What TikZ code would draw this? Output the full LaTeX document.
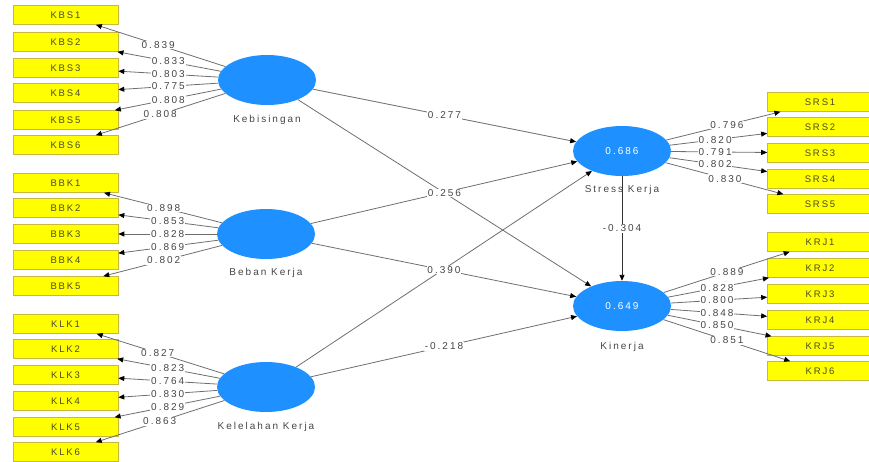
\documentclass[tikz,border=0pt]{standalone}
\usepackage{fontspec}
\setmainfont{Liberation Sans}
\newfontfamily\plsfont[LetterSpace=20]{Liberation Sans}
\usetikzlibrary{arrows.meta,calc,shapes.geometric}
\definecolor{lvblue}{RGB}{30,144,255}
\definecolor{indyellow}{RGB}{255,255,0}
\definecolor{indborder}{RGB}{200,185,60}
\definecolor{txtgray}{RGB}{70,70,70}
\definecolor{boxtxt}{RGB}{75,75,40}
\definecolor{edgegray}{RGB}{110,110,110}
\tikzset{
  ind/.style={rectangle, fill=indyellow, draw=indborder, line width=0.6pt,
    minimum width=105pt, minimum height=19pt, inner sep=0pt,
    font=\plsfont\fontsize{9.5}{10}\selectfont, text=boxtxt},
  lv/.style={ellipse, fill=lvblue, minimum width=98pt, minimum height=50pt,
    inner sep=0pt, text=white, font=\plsfont\fontsize{10}{11}\selectfont},
  lvname/.style={inner sep=0pt, text=txtgray, font=\plsfont\fontsize{10}{11}\selectfont},
  lbl/.style={fill=white, inner sep=0.8pt, text=txtgray, font=\plsfont\fontsize{10}{11}\selectfont},
  conn/.style={draw=edgegray, line width=0.8pt,
    -{Triangle[length=6pt,width=5pt,color=black]}},
  sconn/.style={draw=black!80, line width=0.9pt,
    -{Triangle[length=6pt,width=5pt,color=black]}}
}
\begin{document}
\begin{tikzpicture}[x=1pt,y=-1pt]
\useasboundingbox (0,0) rectangle (869,461);
% latent variables
\node[lv] (KB) at (267,80) {};
\node[lv] (BK) at (266,234) {};
\node[lv] (KL) at (266,387) {};
\node[lv] (SK) at (622,151) {0.686};
\node[lv] (KN) at (622,306) {0.649};
\node[lvname] (KBn) at (267,120) {Kebisingan};
\node[lvname] (BKn) at (266,273) {Beban Kerja};
\node[lvname] (KLn) at (266,427) {Kelelahan Kerja};
\node[lvname] (SKn) at (622,190) {Stress Kerja};
\node[lvname] (KNn) at (622,347) {Kinerja};
% indicators left
\foreach \n/\y in {1/15,2/42,3/68,4/93,5/120,6/145}
  \node[ind] (KBS\n) at (65.5,\y) {KBS\n};
\foreach \n/\y in {1/183,2/208,3/234,4/260,5/286}
  \node[ind] (BBK\n) at (65.5,\y) {BBK\n};
\foreach \n/\y in {1/324,2/349,3/375,4/401,5/427,6/452}
  \node[ind] (KLK\n) at (65.5,\y) {KLK\n};
% indicators right
\foreach \n/\y in {1/102,2/127,3/153,4/179,5/204}
  \node[ind] (SRS\n) at (820,\y) {SRS\n};
\foreach \n/\y in {1/242,2/268,3/294,4/320,5/346,6/371}
  \node[ind] (KRJ\n) at (820,\y) {KRJ\n};
% outer loadings connectors
\foreach \n in {1,...,6} \draw[conn] (KB) -- (KBS\n);
\foreach \n in {1,...,5} \draw[conn] (BK) -- (BBK\n);
\foreach \n in {1,...,6} \draw[conn] (KL) -- (KLK\n);
\foreach \n in {1,...,5} \draw[conn] (SK) -- (SRS\n);
\foreach \n in {1,...,6} \draw[conn] (KN) -- (KRJ\n);
% structural paths
\draw[conn] (KB) -- (SK);
\draw[conn] (KB) -- (KN);
\draw[conn] (BK) -- (SK);
\draw[conn] (BK) -- (KN);
\draw[conn] (KL) -- (SK);
\draw[conn] (KL) -- (KN);
\draw[sconn] (SK) -- (KN);
% loading labels
\foreach \n/\f/\v in {1/0.54/0.839,2/0.49/0.833,3/0.49/0.803,4/0.49/0.775,5/0.49/0.808,6/0.53/0.808}
  \node[lbl] (lKBS\n) at ($(KB)!\f!(KBS\n)$) {\v};
\foreach \n/\f/\v in {1/0.51/0.898,2/0.49/0.853,3/0.49/0.828,4/0.49/0.869,5/0.51/0.802}
  \node[lbl] (lBBK\n) at ($(BK)!\f!(BBK\n)$) {\v};
\foreach \n/\f/\v in {1/0.54/0.827,2/0.49/0.823,3/0.49/0.764,4/0.49/0.830,5/0.49/0.829,6/0.53/0.863}
  \node[lbl] (lKLK\n) at ($(KL)!\f!(KLK\n)$) {\v};
\foreach \n/\f/\v in {1/0.53/0.796,2/0.47/0.820,3/0.47/0.791,4/0.47/0.802,5/0.52/0.830}
  \node[lbl] (lSRS\n) at ($(SK)!\f!(SRS\n)$) {\v};
\foreach \n/\f/\v in {1/0.53/0.889,2/0.48/0.828,3/0.48/0.800,4/0.48/0.848,5/0.48/0.850,6/0.53/0.851}
  \node[lbl] (lKRJ\n) at ($(KN)!\f!(KRJ\n)$) {\v};
% path coefficient labels
\node[lbl] (p1) at ($(KB)!0.5!(SK)$) {0.277};
\node[lbl] (p2) at ($(KB)!0.5!(KN)$) {0.256};
\node[lbl] (p3) at ($(BK)!0.5!(KN)$) {0.390};
\node[lbl] (p4) at ($(KL)!0.5!(KN)$) {-0.218};
\node[lbl] (p5) at ($(SK)!0.5!(KN)$) {-0.304};
\end{tikzpicture}
\end{document}
